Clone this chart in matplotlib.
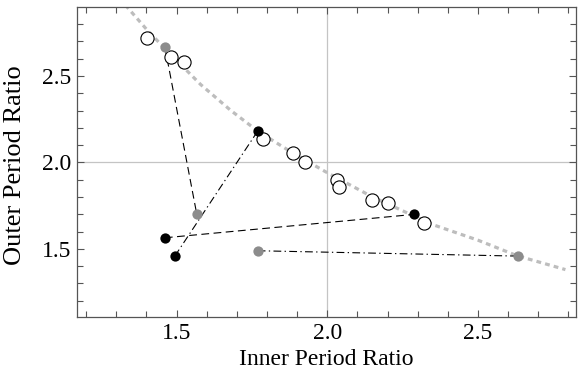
import numpy as np
import matplotlib
matplotlib.use("Agg")
import matplotlib.pyplot as plt
from matplotlib.ticker import MultipleLocator

plt.rcParams['font.family'] = ['Liberation Serif', 'DejaVu Serif']
plt.rcParams['mathtext.fontset'] = 'stix'

# stability-type boundary
curve_x = [1.33, 1.40, 1.46, 1.58, 1.68, 1.77, 1.88, 2.00, 2.15, 2.35, 2.50, 2.63, 2.79]
curve_y = [2.91, 2.77, 2.66, 2.45, 2.30, 2.18, 2.06, 1.94, 1.80, 1.64, 1.55, 1.46, 1.38]

# open circles
open_x = [1.402, 1.482, 1.523, 1.786, 1.887, 1.926, 2.032, 2.040, 2.148, 2.200, 2.322]
open_y = [2.720, 2.607, 2.580, 2.133, 2.055, 2.000, 1.898, 1.857, 1.782, 1.765, 1.649]

# pairs (start, end) for each track
gray_dash_x = [1.461, 1.567]
gray_dash_y = [2.668, 1.699]
black_dash_x = [1.461, 2.286]
black_dash_y = [1.564, 1.699]
black_dd_x = [1.494, 1.769]
black_dd_y = [1.458, 2.181]
gray_dd_x = [1.769, 2.634]
gray_dd_y = [1.489, 1.458]

fig = plt.figure(figsize=(5.78, 3.76), dpi=100)
ax = fig.add_axes([0.133, 0.157, 0.864, 0.824])

ax.axvline(2.0, color='#c4c4c4', lw=0.9, zorder=0)
ax.axhline(2.0, color='#c4c4c4', lw=0.9, zorder=0)

ax.plot(curve_x, curve_y, color='#bdbdbd', lw=2.3, linestyle=(0, (1.5, 1.3)), zorder=1)

ax.plot(gray_dash_x, gray_dash_y, color='black', lw=0.8, linestyle=(0, (7, 4)), zorder=2)
ax.plot(black_dash_x, black_dash_y, color='black', lw=0.8, linestyle=(0, (7, 4)), zorder=2)
ax.plot(black_dd_x, black_dd_y, color='black', lw=0.8, linestyle=(0, (7, 3, 1.2, 3)), zorder=2)
ax.plot(gray_dd_x, gray_dd_y, color='black', lw=0.8, linestyle=(0, (7, 3, 1.2, 3)), zorder=2)

ax.plot(open_x, open_y, 'o', ms=9.5, mfc='white', mec='black', mew=0.8, ls='none', zorder=3)

for xs, ys, c in [(gray_dash_x, gray_dash_y, '#8c8c8c'), (black_dash_x, black_dash_y, 'black'),
                  (black_dd_x, black_dd_y, 'black'), (gray_dd_x, gray_dd_y, '#8c8c8c')]:
    ax.plot(xs, ys, 'o', ms=7.4, color=c, mec='none', ls='none', zorder=4)

ax.set_xlim(1.169, 2.826)
ax.set_ylim(1.106, 2.898)
ax.xaxis.set_major_locator(MultipleLocator(0.5))
ax.xaxis.set_minor_locator(MultipleLocator(0.1))
ax.yaxis.set_major_locator(MultipleLocator(0.5))
ax.yaxis.set_minor_locator(MultipleLocator(0.1))
ax.xaxis.set_major_formatter(lambda v, p: f'{v:.1f}')
ax.yaxis.set_major_formatter(lambda v, p: f'{v:.1f}')
ax.tick_params(which='both', direction='in', top=True, right=True, color='#555555', width=0.8)
ax.tick_params(which='major', length=5, labelsize=17, pad=4)
ax.tick_params(which='minor', length=4)
for s in ax.spines.values():
    s.set_color('#555555')
    s.set_linewidth(0.9)

ax.set_xlabel('Inner Period Ratio', fontsize=17, va='center')
ax.set_ylabel('Outer Period Ratio', fontsize=19, va='center')
ax.xaxis.set_label_coords(0.5, -0.137)
ax.yaxis.set_label_coords(-0.124, 0.49)

fig.savefig('out.png', dpi=100)
